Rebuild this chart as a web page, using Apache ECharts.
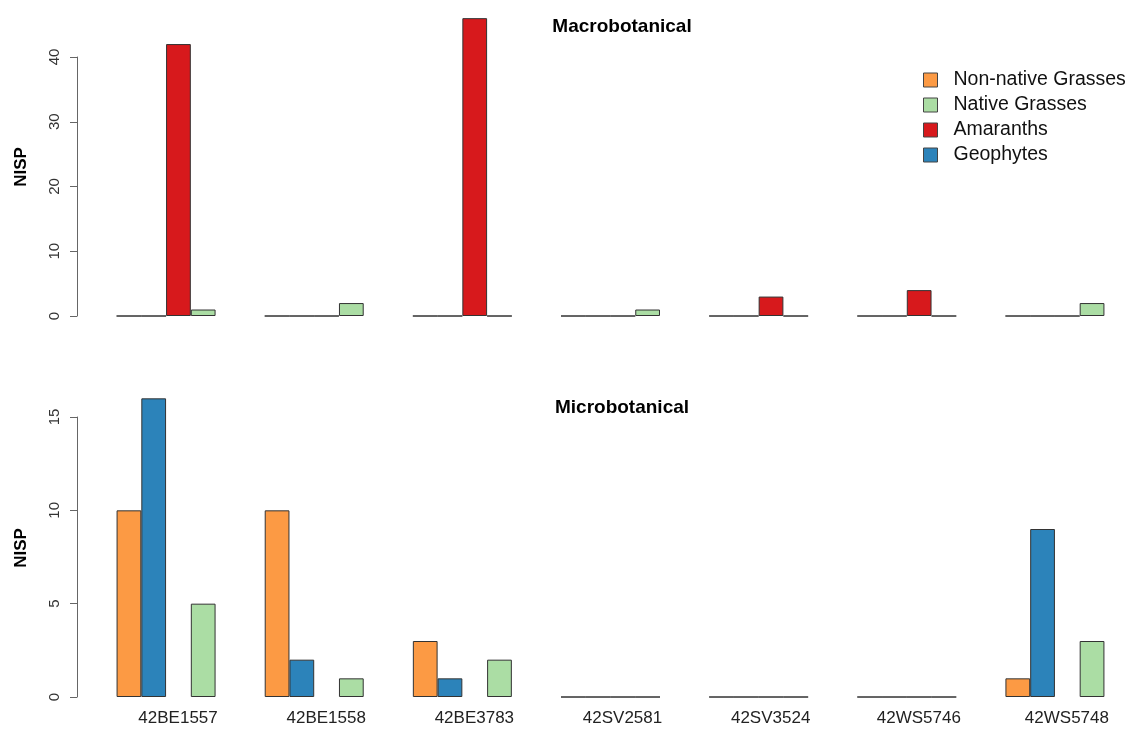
<!DOCTYPE html>
<html><head><meta charset="utf-8">
<script src="https://cdn.jsdelivr.net/npm/echarts@6/dist/echarts.min.js"></script>
<style>html,body{margin:0;padding:0;background:#fff}#c{width:1129px;height:730px}</style>
</head><body><div id="c"></div>
<script>
const sites = ['42BE1557','42BE1558','42BE3783','42SV2581','42SV3524','42WS5746','42WS5748'];
const seriesNames = ['Non-native Grasses','Geophytes','Amaranths','Native Grasses'];
const legendOrder = ['Non-native Grasses','Native Grasses','Amaranths','Geophytes'];
const colors = {'Non-native Grasses':'#FC9A44','Geophytes':'#2C83BA','Amaranths':'#D7191C','Native Grasses':'#ABDDA4'};
// Macrobotanical
const macroNonNative = [0,0,0,0,0,0,0];
const macroGeophytes = [0,0,0,0,0,0,0];
const macroAmaranths = [42,0,46,0,3,4,0];
const macroNative    = [1,2,0,1,0,0,2];
// Microbotanical
const microNonNative = [10,10,3,0,0,0,1];
const microGeophytes = [16,2,1,0,0,0,9];
const microAmaranths = [null,null,null,0,0,0,null];
const microNative    = [5,1,2,0,0,0,3];
const macroTicks = [0,10,20,30,40];
const microTicks = [0,5,10,15];

const macro = [macroNonNative, macroGeophytes, macroAmaranths, macroNative];
const micro = [microNonNative, microGeophytes, microAmaranths, microNative];

const font = 'Liberation Sans, Arial, Helvetica, sans-serif';
function mkX(idx, showLabels){
  return {type:'category', gridIndex:idx, data:sites,
    axisLine:{show:false}, axisTick:{show:false},
    axisLabel:{show:showLabels, fontFamily:font, fontSize:17, color:'#222', margin:13, padding:[0,0,0,24]}};
}
function mkY(idx, ticks){
  return {type:'value', gridIndex:idx, min:ticks[0], max:ticks[ticks.length-1], interval:ticks[1]-ticks[0], offset:15,
    splitLine:{show:false},
    axisLine:{show:true, lineStyle:{color:'#666', width:1}},
    axisTick:{show:true, length:7, lineStyle:{color:'#666'}},
    axisLabel:{rotate:90, fontFamily:font, fontSize:15, color:'#333', margin:15}};
}
const series = [];
[macro, micro].forEach((set, gi) => {
  set.forEach((vals, si) => {
    const name = seriesNames[si];
    series.push({type:'bar', name:name, xAxisIndex:gi, yAxisIndex:gi,
      data:vals, barWidth:24.75, barGap:'0%', clip:false,
      itemStyle:{color:colors[name], borderColor:'#333', borderWidth:1},
      emphasis:{disabled:true}});
  });
});
const chart = echarts.init(document.getElementById('c'), null, {renderer:'canvas'});
chart.setOption({
  animation:false,
  grid:[{left:92, width:1040, top:57, height:259},{left:92, width:1040, top:417, height:280}],
  xAxis:[mkX(0,false), mkX(1,true)],
  yAxis:[mkY(0,macroTicks), mkY(1,microTicks)],
  legend:{data:legendOrder, orient:'vertical', left:918, top:65, itemWidth:14, itemHeight:14, itemGap:5,
    icon:'rect', itemStyle:{borderColor:'#444', borderWidth:1},
    textStyle:{fontFamily:font, fontSize:19.5, color:'#111', padding:[0,0,0,11]}},
  graphic:[
    {type:'text', style:{text:'Macrobotanical', font:'bold 19px '+font, fill:'#000', x:622, y:27, align:'center', verticalAlign:'middle'}},
    {type:'text', style:{text:'Microbotanical', font:'bold 19px '+font, fill:'#000', x:622, y:408, align:'center', verticalAlign:'middle'}},
    {type:'text', x:21, y:167, rotation:Math.PI/2, style:{text:'NISP', font:'bold 17px '+font, fill:'#000', align:'center', verticalAlign:'middle'}},
    {type:'text', x:21, y:548, rotation:Math.PI/2, style:{text:'NISP', font:'bold 17px '+font, fill:'#000', align:'center', verticalAlign:'middle'}}
  ],
  series:series
});
</script></body></html>
